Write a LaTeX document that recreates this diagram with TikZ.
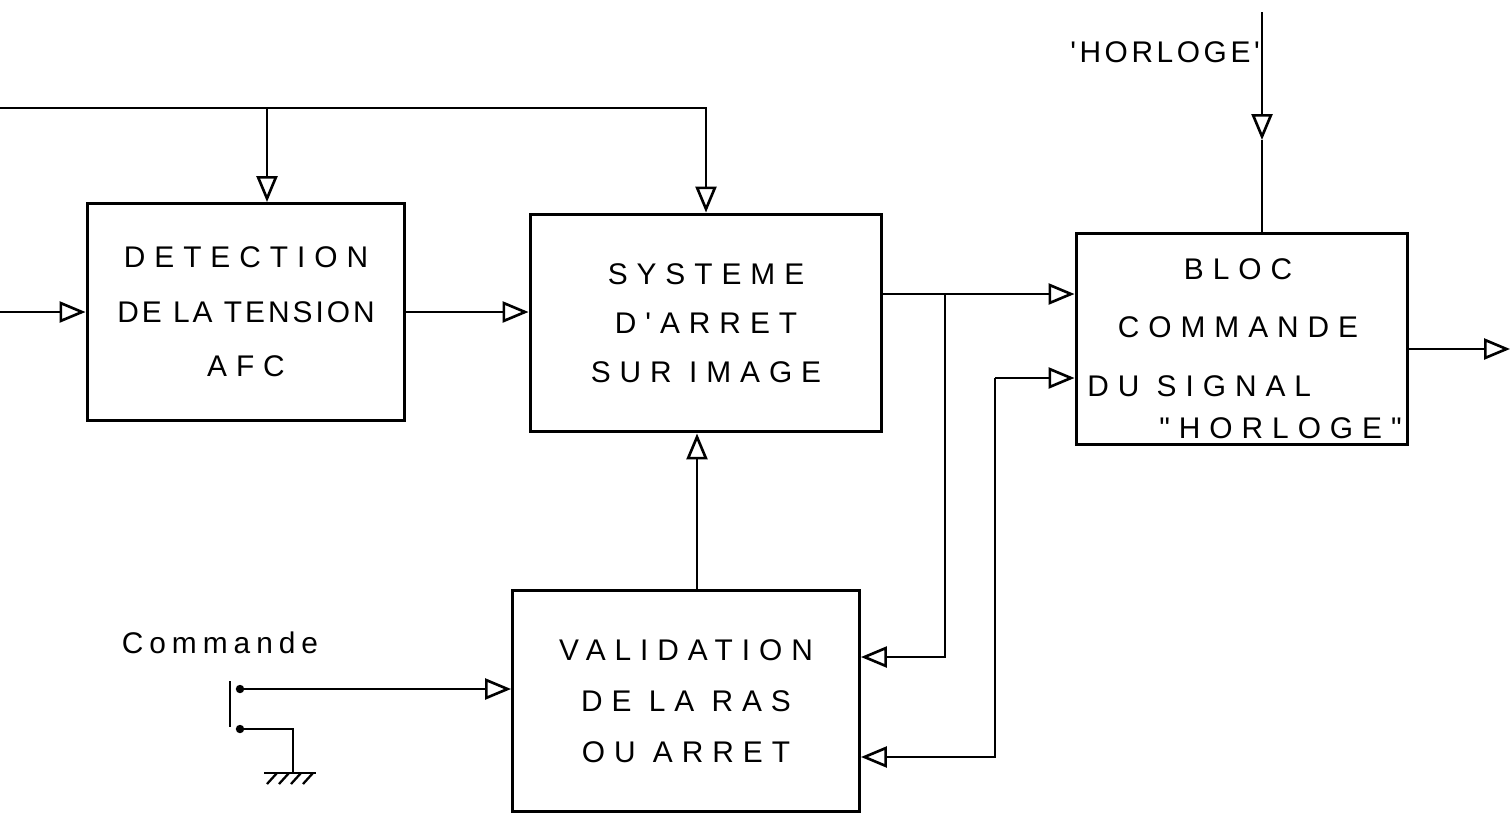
\documentclass[tikz,border=0pt]{standalone}
\usepackage{fontspec}
\newfontfamily\hand{Liberation Sans}[LetterSpace=30]
\newfontfamily\handtight{Liberation Sans}[LetterSpace=10]
\newfontfamily\handlow{Liberation Sans}[LetterSpace=20]
\usetikzlibrary{arrows.meta,calc}
\newcommand\boxfont{\hand\fontsize{17}{31}\selectfont}
\tikzset{
  box/.style={draw, line width=1.7pt, inner sep=0pt, align=center, font=\boxfont},
  wire/.style={line width=1.5pt},
  arr/.style={wire, -{Triangle[open, length=0.52cm, width=0.42cm, line width=1.5pt]}},
  lbl/.style={inner sep=0pt, font=\boxfont, align=center},
}
\begin{document}
\begin{tikzpicture}[x=0.02cm,y=-0.02cm]
\useasboundingbox (0,0) rectangle (1510,815);

% blocks
\node[box, minimum width=6.36cm, minimum height=4.34cm] (det) at (246,312)
  {DETECTION\\{\handtight DE LA TENSION}\\AFC};
\node[box, minimum width=7.04cm, minimum height=4.36cm] (sys) at (706,323)
  {SYSTEME\\[-3pt]D'ARRET\\[-3pt]SUR IMAGE};
\node[box, minimum width=6.64cm, minimum height=4.24cm] (bloc) at (1242,339) {};
\node[lbl] (bloct) at (1238,298) {BLOC\\[2pt]COMMANDE};
\node[lbl, anchor=west] (blocs) at (1087,386) {DU SIGNAL};
\node[lbl, anchor=east] (bloch) at (1402,428) {"HORLOGE"};
\node[box, minimum width=6.94cm, minimum height=4.42cm] (val) at (686,701)
  {VALIDATION\\[-2pt]DE LA RAS\\[-2pt]OU ARRET};

% labels
\node[lbl, font=\handlow\fontsize{17}{20}\selectfont] (cmd) at (220,643) {Commande};
\node[lbl, font=\hand\addfontfeature{LetterSpace=12}\fontsize{17}{20}\selectfont] (hl) at (1165,52) {'HORLOGE'};

% free ends and junctions
\coordinate (topin) at (0,108);
\coordinate (j1) at (267,108);
\coordinate (lin) at (0,312);
\coordinate (j2) at (945,294);
\coordinate (j3) at (995,378);
\coordinate (vx) at (697,0);
\coordinate (out) at (1510,349);
\coordinate (hin) at (1262,12);
\coordinate (hmid) at (1262,140);
\coordinate (swa) at (240,689);
\coordinate (swb) at (240,729);
\coordinate (gnd) at (293,772);

% connectors
\draw[arr] (topin) -| (sys.north);
\draw[arr] (j1) -- (j1 |- det.north);
\draw[arr] (lin) -- (det.west);
\draw[arr] (det.east) -- (det.east -| sys.west);
\draw[arr] ([yshift=0.58cm]sys.east) -- ([yshift=0.58cm]sys.east -| bloc.west);
\draw[arr] (j2) |- ([yshift=0.88cm]val.east);
\draw[arr] (j3) -- (j3 -| bloc.west);
\draw[arr] (j3) |- ([yshift=-1.12cm]val.east);
\draw[arr] (vx |- val.north) -- (vx |- sys.south);
\draw[arr] (out -| bloc.east) -- (out);
\draw[arr] (hin) -- (hmid);
\draw[wire] (hmid) -- (hmid |- bloc.north);

% switch and ground
\draw[wire] (230,681) -- (230,727);
\fill (swa) circle (2.4pt);
\fill (swb) circle (2.4pt);
\draw[arr] (swa) -- (swa -| val.west);
\draw[wire] (swb) -| (gnd);
\draw[wire] (264,773) -- (316,773);
\foreach \x in {277,289,301,313} \draw[line width=1.3pt] (\x,773) -- (\x-10,784);
\end{tikzpicture}
\end{document}
